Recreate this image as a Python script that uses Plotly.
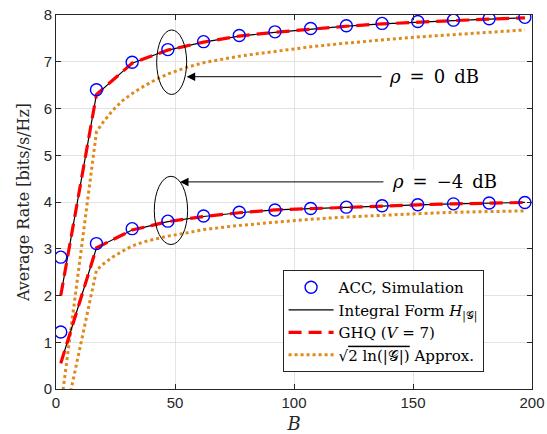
import plotly.graph_objects as go

# ---- data ----
B_pts = [2, 17, 32, 47, 62, 77, 92, 107, 122, 137, 152, 167, 182, 197]

sim_0dB = [2.82, 6.40, 6.99, 7.26, 7.43, 7.56, 7.64, 7.71, 7.77, 7.82, 7.86, 7.89, 7.92, 7.95]
sim_m4dB = [1.22, 3.11, 3.43, 3.59, 3.70, 3.78, 3.83, 3.86, 3.89, 3.92, 3.94, 3.96, 3.98, 3.99]

int_0dB = [2.00, 6.30, 6.97, 7.25, 7.42, 7.55, 7.63, 7.70, 7.76, 7.81, 7.85, 7.88, 7.91, 7.94]
int_m4dB = [0.55, 3.02, 3.40, 3.58, 3.69, 3.77, 3.83, 3.86, 3.89, 3.92, 3.94, 3.96, 3.98, 3.99]

ghq_0dB = [2.00, 6.30, 6.97, 7.25, 7.42, 7.55, 7.63, 7.70, 7.76, 7.81, 7.85, 7.88, 7.91, 7.94]
ghq_m4dB = [0.55, 3.02, 3.40, 3.58, 3.69, 3.77, 3.83, 3.86, 3.89, 3.92, 3.94, 3.96, 3.98, 3.99]

B_apx = [2, 17, 20, 24, 28, 32, 37, 42, 47, 55, 62, 77, 92, 107, 122, 137, 152, 167, 182, 197]
apx_0dB = [-0.40, 5.50, 5.72, 5.97, 6.17, 6.32, 6.48, 6.62, 6.74, 6.88, 6.98, 7.12, 7.22, 7.32,
           7.40, 7.47, 7.53, 7.58, 7.63, 7.68]
apx_m4dB = [-1.05, 2.54, 2.68, 2.83, 2.95, 3.06, 3.15, 3.21, 3.27, 3.34, 3.41, 3.50, 3.57, 3.63,
            3.68, 3.72, 3.75, 3.78, 3.80, 3.81]

x_ticks = [0, 50, 100, 150, 200]
y_ticks = [0, 1, 2, 3, 4, 5, 6, 7, 8]

# annotation geometry (data units)
ell_0 = dict(cx=48.6, cy=6.99, rx=6.3, ry=0.69)
ell_4 = dict(cx=48.3, cy=3.82, rx=7.0, ry=0.73)
arrow_0 = dict(tip=(54.9, 6.68), tail=(137.4, 6.68),
               label="<i>ρ</i>\u2002=\u20020\u2002dB", tx=139.0)
arrow_4 = dict(tip=(52.1, 4.43), tail=(138.2, 4.43),
               label="<i>ρ</i>\u2002=\u2002−4\u2002dB", tx=140.5)

BLUE = "#0000FF"
RED = "#FF0000"
ORANGE = "rgb(222,138,28)"
SERIF = "DejaVu Serif"
SANS = "Liberation Sans"

fig = go.Figure()

# approx (dotted orange)
for i, ys in enumerate([apx_0dB, apx_m4dB]):
    fig.add_trace(go.Scatter(x=B_apx, y=ys, mode="lines",
                             line=dict(color=ORANGE, width=3, dash="3px,3px"),
                             name="√<span style='text-decoration:overline'>2 ln(|𝒢|)</span> Approx.",
                             legendgroup="apx", showlegend=(i == 0), legendrank=4))
# integral form (black)
for i, ys in enumerate([int_0dB, int_m4dB]):
    fig.add_trace(go.Scatter(x=B_pts, y=ys, mode="lines",
                             line=dict(color="black", width=1.2),
                             name="Integral Form <i>H</i><sub>|𝒢|</sub>",
                             legendgroup="int", showlegend=(i == 0), legendrank=2))
# GHQ (red dashed)
for i, ys in enumerate([ghq_0dB, ghq_m4dB]):
    fig.add_trace(go.Scatter(x=B_pts, y=ys, mode="lines",
                             line=dict(color=RED, width=3.2, dash="13px,7px"),
                             name="GHQ (<i>V</i> = 7)",
                             legendgroup="ghq", showlegend=(i == 0), legendrank=3))
# simulation markers
for i, ys in enumerate([sim_0dB, sim_m4dB]):
    fig.add_trace(go.Scatter(x=B_pts, y=ys, mode="markers",
                             marker=dict(symbol="circle-open", size=12, color=BLUE,
                                         line=dict(width=1.4, color=BLUE)),
                             name="ACC, Simulation",
                             legendgroup="sim", showlegend=(i == 0), legendrank=1))

for e in (ell_0, ell_4):
    fig.add_shape(type="circle", xref="x", yref="y",
                  x0=e["cx"] - e["rx"], x1=e["cx"] + e["rx"],
                  y0=e["cy"] - e["ry"], y1=e["cy"] + e["ry"],
                  line=dict(color="black", width=1))

for a in (arrow_0, arrow_4):
    fig.add_annotation(x=a["tip"][0], y=a["tip"][1], ax=a["tail"][0], ay=a["tail"][1],
                       xref="x", yref="y", axref="x", ayref="y", text="",
                       showarrow=True, arrowhead=2, arrowsize=1.7, arrowwidth=1,
                       arrowcolor="black", standoff=0)
    fig.add_annotation(x=a["tx"], y=a["tip"][1], xref="x", yref="y", text=a["label"],
                       showarrow=False, xanchor="left", yanchor="middle",
                       font=dict(family=SERIF, size=18, color="black"),
                       bgcolor="white", borderpad=1)

axis_common = dict(showline=True, linecolor="#262626", linewidth=1, mirror="allticks",
                   ticks="inside", ticklen=5, tickcolor="#262626", automargin=False,
                   showgrid=True, gridcolor="#e3e3e3", gridwidth=1, zeroline=False,
                   tickfont=dict(family=SANS, size=15, color="#262626"))

fig.update_xaxes(range=[0, 200], tickvals=x_ticks, **axis_common,
                 title=dict(text="<i>B</i>", font=dict(family=SERIF, size=18, color="#262626"),
                            standoff=10))
fig.update_yaxes(range=[0, 8], tickvals=y_ticks, **axis_common,
                 title=dict(text="Average Rate [bits/s/Hz]",
                            font=dict(family=SERIF, size=16, color="#262626"), standoff=10))

fig.update_layout(
    width=547, height=434,
    margin=dict(l=56, r=15, t=15, b=45),
    paper_bgcolor="white", plot_bgcolor="white",
    showlegend=True,
    legend=dict(x=0.476, y=0.318, xanchor="left", yanchor="top",
                bgcolor="white", bordercolor="#262626", borderwidth=1,
                font=dict(family=SERIF, size=15, color="black"),
                itemwidth=45, tracegroupgap=0, traceorder="normal"),
)

fig.write_html("out.html")
